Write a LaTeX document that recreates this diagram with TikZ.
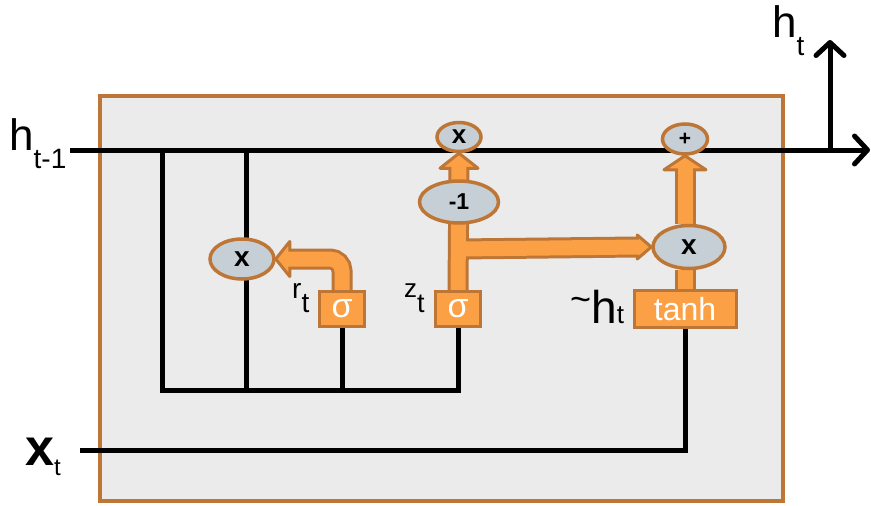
\documentclass[tikz,border=0pt]{standalone}
\usepackage{fontspec}
\setmainfont{Liberation Sans}
\usetikzlibrary{arrows.meta,shapes.geometric,calc}
\pgfdeclarelayer{bg}
\pgfdeclarelayer{mid}
\pgfsetlayers{bg,mid,main}
\definecolor{cellfill}{RGB}{235,235,235}
\definecolor{brownline}{RGB}{190,118,54}
\definecolor{orangefill}{RGB}{252,160,70}
\definecolor{ellfill}{RGB}{197,207,213}
\newcommand{\fsz}[1]{\fontsize{#1}{#1}\selectfont}
\begin{document}
\begin{tikzpicture}[x=1pt,y=-1pt,
  wire/.style={line width=5pt,black},
  barb/.style={-{Straight Barb[length=13pt,width=28pt,round]}},
  oper/.style={ellipse,draw=brownline,line width=3.5pt,fill=ellfill,inner sep=0pt,font=\bfseries},
  gatebox/.style={rectangle,draw=brownline,line width=3pt,fill=orangefill,inner sep=0pt,text=white},
  shaftout/.style={line width=21pt,brownline},
  shaftin/.style={line width=15pt,orangefill},
  fathead/.style={fill=orangefill,draw=brownline,line width=3pt,line join=round},
  lbl/.style={anchor=base west,inner sep=0pt}]
\useasboundingbox (0,0) rectangle (871,506);

% gate boxes and operators
\node[gatebox,minimum width=45pt,minimum height=35pt] (rbox) at (342,309) {\fsz{34}σ};
\node[gatebox,minimum width=45pt,minimum height=35pt] (zbox) at (458,309) {\fsz{34}σ};
\node[gatebox,minimum width=102pt,minimum height=37pt] (tbox) at (685,309) {\fsz{32}tanh};
\node[oper,minimum width=64pt,minimum height=40pt] (mr) at (242,259) {\fsz{28}x};
\node[oper,minimum width=44pt,minimum height=29pt] (mz) at (459,137) {\fsz{26}x};
\node[oper,minimum width=79pt,minimum height=42pt] (neg) at (459,202) {\fsz{23}-1};
\node[oper,minimum width=72pt,minimum height=43pt] (mh) at (689,247) {\fsz{28}x};
\node[oper,minimum width=45pt,minimum height=30pt] (plus) at (685,139) {\fsz{21}+};

% labels
\node[lbl] (lhin) at (9,150) {\fsz{44}h\raisebox{-18pt}{\fsz{28}t-1}};
\node[lbl] (lhout) at (772,37) {\fsz{44}h\raisebox{-18pt}{\fsz{28}t}};
\node[lbl] (lx) at (25,465) {\fsz{52}\bfseries x\raisebox{-10pt}{\fsz{24}\mdseries t}};
\node[lbl] (lr) at (292,298) {\fsz{28}r\raisebox{-14pt}{t}};
\node[lbl] (lz) at (404,297) {\fsz{26}z\raisebox{-15pt}{\fsz{27}t}};
\node[lbl] (lth) at (570,323) {\raisebox{12pt}{\fsz{36}\textasciitilde}\fsz{46}h\fsz{26}t};

\begin{pgfonlayer}{bg}
\node[draw=brownline,fill=cellfill,line width=3.5pt,minimum width=683pt,minimum height=405pt,inner sep=0pt] (cell) at (441.5,298.5) {};
\coordinate (hin) at (70,150);
\coordinate (hout) at (870,150);
\coordinate (ja) at (162,150);
\coordinate (jb) at (246,150);
\coordinate (bl) at (162,390);
\coordinate (jc) at (246,390);
\coordinate (jr) at (342,390);
\coordinate (xin) at (80,450);
\coordinate (jout) at (830,150);
\coordinate (htop) at (830,40);
\draw[wire,barb] (hin) -- (hout);
\draw[wire] (ja) -- (bl) -- (zbox.south |- bl) -- (zbox.south);
\draw[wire] (jb) -- (jc);
\draw[wire] (rbox.south) -- (jr);
\draw[wire] (tbox.south) |- (xin);
\draw[wire,barb] (jout) -- (htop);
\end{pgfonlayer}

\begin{pgfonlayer}{mid}
\coordinate (zbr) at (459,249);
% outer (brown) shafts
\draw[shaftout,rounded corners=12pt] (rbox.north) |- ($(mr.east)+(14,0)$);
\draw[shaftout] (zbox.north) -- ($(mz.south)+(0,15)$);
\draw[shaftout] (zbr) -- ($(mh.west)+(-14,0)$);
\draw[shaftout] (tbox.north) -- (tbox.north |- mh.south);
\draw[shaftout] (plus.south |- mh.north) -- ($(plus.south)+(0,14)$);
% heads
\filldraw[fathead] (mr.east) -- ($(mr.east)+(14,-17.5)$) -- ($(mr.east)+(14,17.5)$) -- cycle;
\filldraw[fathead] (mz.south) -- ($(mz.south)+(-19,15)$) -- ($(mz.south)+(19,15)$) -- cycle;
\filldraw[fathead] (mh.west) -- ($(mh.west)+(-14,-12)$) -- ($(mh.west)+(-14,12)$) -- cycle;
\filldraw[fathead] (plus.south) -- ($(plus.south)+(-21,14)$) -- ($(plus.south)+(21,14)$) -- cycle;
% inner (orange) shafts
\draw[shaftin,rounded corners=12pt] (rbox.north) |- ($(mr.east)+(12,0)$);
\draw[shaftin] (zbox.north) -- ($(mz.south)+(0,13)$);
\draw[shaftin] (zbr) -- ($(mh.west)+(-12,0)$);
\draw[shaftin] (tbox.north) -- (tbox.north |- mh.south);
\draw[shaftin] (plus.south |- mh.north) -- ($(plus.south)+(0,12)$);
\end{pgfonlayer}
\end{tikzpicture}
\end{document}
